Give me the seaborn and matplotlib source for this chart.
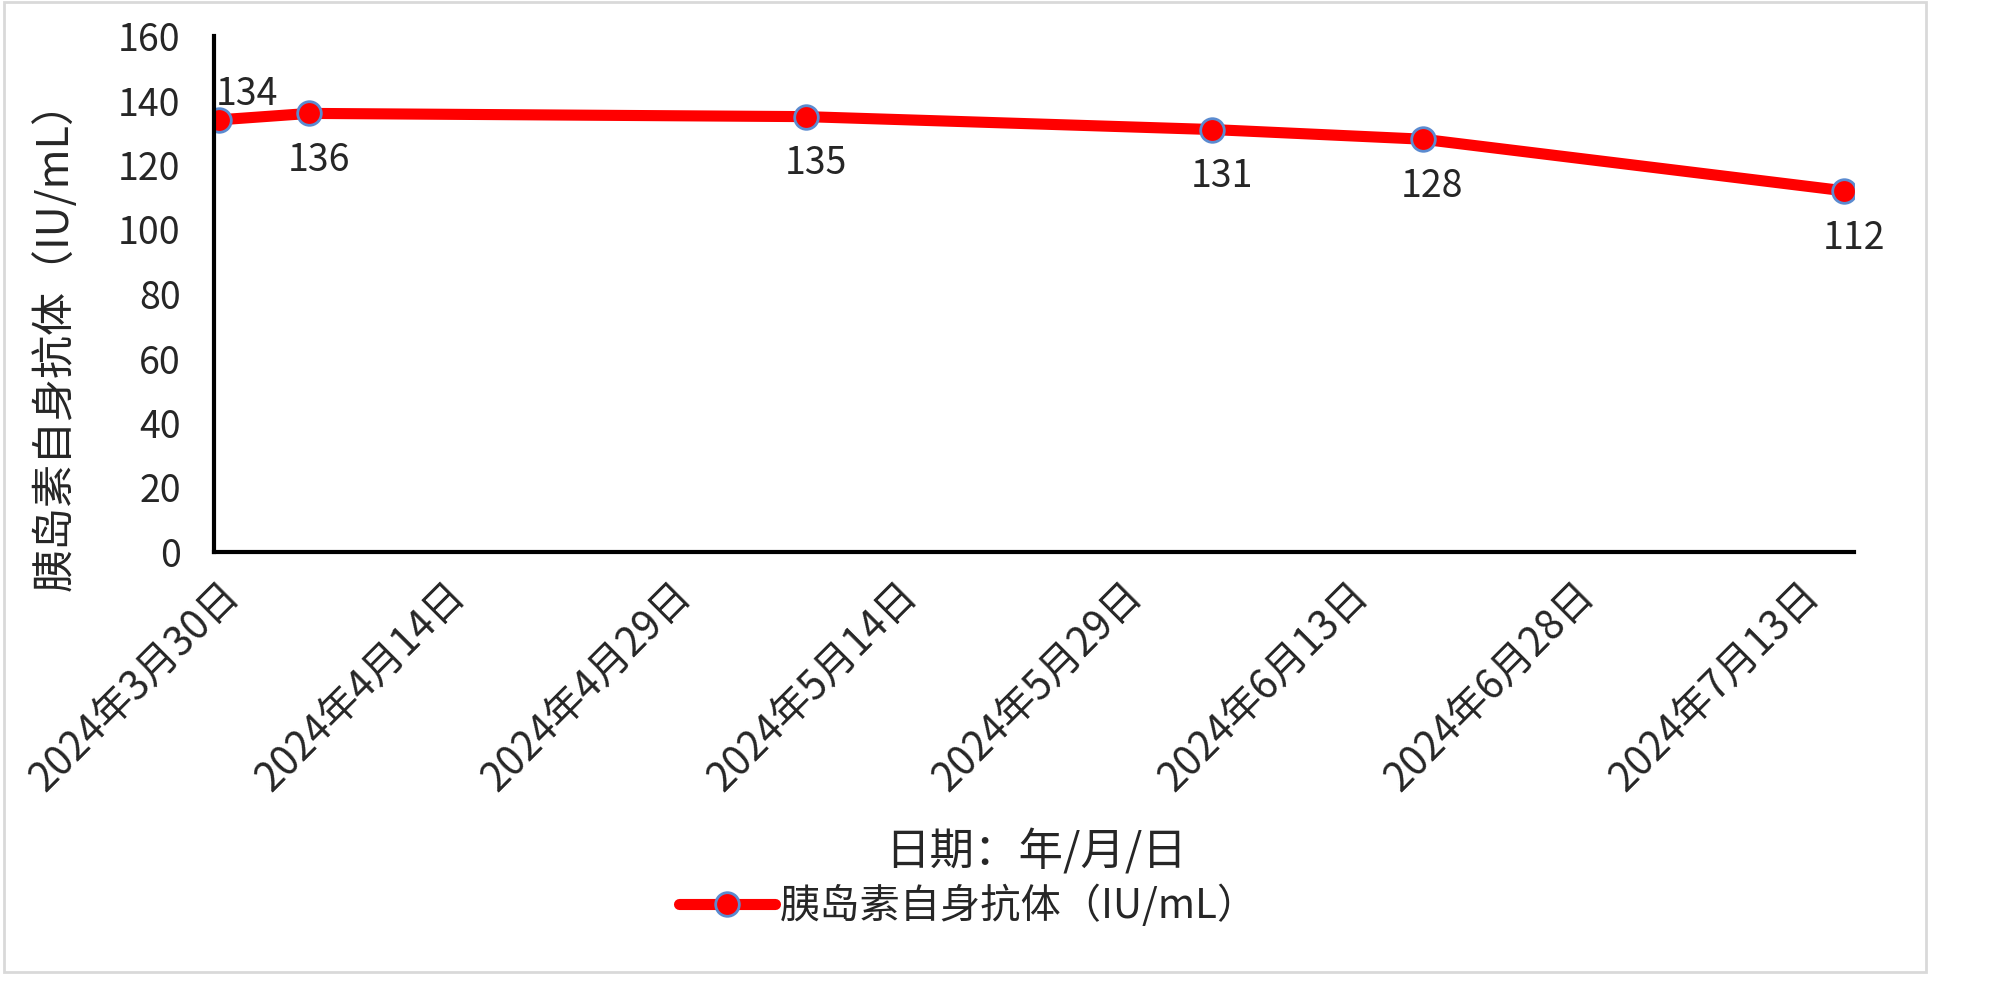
import pandas as pd
import matplotlib.pyplot as plt
from matplotlib.patches import Rectangle
import seaborn as sns

# Data
dates = ['2024-03-30', '2024-04-05', '2024-05-08', '2024-06-04', '2024-06-18', '2024-07-16']
values = [134, 136, 135, 131, 128, 112]
label_pos = ['above', 'below', 'below', 'below', 'below', 'below']
tick_dates = ['2024-03-30', '2024-04-14', '2024-04-29', '2024-05-14',
              '2024-05-29', '2024-06-13', '2024-06-28', '2024-07-13']
series_name = '胰岛素自身抗体（IU/mL）'

df = pd.DataFrame({'date': pd.to_datetime(dates), 'value': values})

sns.set_theme(style="white")
plt.rcParams['font.family'] = ['Noto Sans CJK SC', 'DejaVu Sans']

fig = plt.figure(figsize=(20, 10), dpi=100)
ax = fig.add_axes([0.107, 0.448, 0.82, 0.516])

sns.lineplot(data=df, x='date', y='value', ax=ax, color='#FF0000', linewidth=8,
             marker='o', markersize=17, markerfacecolor='#FF0000',
             markeredgecolor='#5B8BD0', markeredgewidth=2, label=series_name)

# data labels
for d, v, pos in zip(df['date'], values, label_pos):
    if pos == 'above':
        ax.annotate(str(v), (d, v), xytext=(20, 18), textcoords='offset points',
                    ha='center', va='center', fontsize=27)
    else:
        ax.annotate(str(v), (d, v), xytext=(7, -34), textcoords='offset points',
                    ha='center', va='center', fontsize=27)

# axes
x0 = pd.Timestamp('2024-03-30') - pd.Timedelta(hours=8)
x1 = pd.Timestamp('2024-07-16') + pd.Timedelta(hours=16)
ax.set_xlim(x0, x1)
ax.set_ylim(0, 160)
ax.set_yticks(range(0, 161, 20))
ticks = pd.to_datetime(tick_dates)
ax.set_xticks(ticks)
ax.set_xticklabels([f'{t.year}年{t.month}月{t.day}日' for t in ticks],
                   rotation=45, ha='right', va='top', rotation_mode='anchor', fontsize=29)
ax.tick_params(axis='y', labelsize=27, direction='in', length=12, width=2.5, pad=24)
ax.tick_params(axis='x', direction='in', length=12, width=2.5, pad=16)
for s in ['top', 'right']:
    ax.spines[s].set_visible(False)
for s in ['left', 'bottom']:
    ax.spines[s].set_color('black')
    ax.spines[s].set_linewidth(3)

ax.set_ylabel(series_name, fontsize=31)
ax.yaxis.set_label_coords(-0.083, 0.42)
ax.set_xlabel('')
fig.text(0.518, 0.148, '日期：年/月/日', ha='center', va='center', fontsize=32)

leg = ax.legend(loc='center', bbox_to_anchor=(0.484, 0.094), bbox_transform=fig.transFigure,
                frameon=False, fontsize=29, handlelength=2.4, handletextpad=0.1)

# light chart-area border
fig.patches.append(Rectangle((0.002, 0.028), 0.961, 0.970, transform=fig.transFigure,
                             fill=False, edgecolor='#D9D9D9', linewidth=2))

fig.savefig('out.png', dpi=100)
